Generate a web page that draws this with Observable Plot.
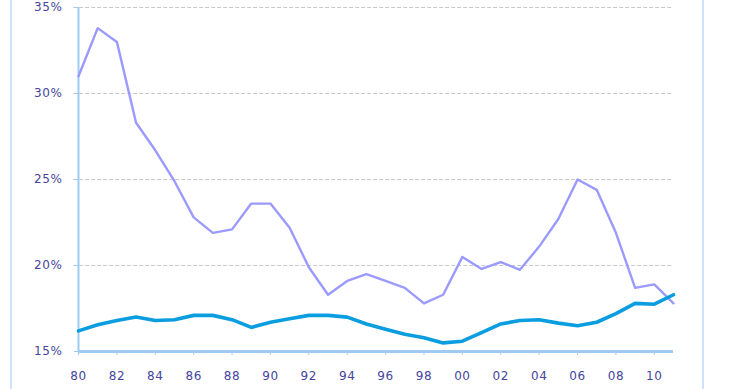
<!DOCTYPE html>
<html>
<head>
<meta charset="utf-8">
<script src="https://cdn.jsdelivr.net/npm/d3@7"></script>
<script src="https://cdn.jsdelivr.net/npm/@observablehq/plot@0.6"></script>
<style>
  html, body { margin: 0; padding: 0; background: #fff; }
  #wrap { position: relative; width: 740px; height: 389px; overflow: hidden; }
  #frame { position: absolute; left: 10px; top: -5px; width: 690px; height: 400px;
           border-left: 2px solid #cfe2fa; border-right: 2px solid #cfe2fa; pointer-events: none; }
  #chart { position: absolute; left: 0; top: 0; }
  #chart text { letter-spacing: 0.6px; }
</style>
</head>
<body>
<div id="wrap"><div id="chart"></div><div id="frame"></div></div>
<script>
const years = d3.range(1980, 2012);
const seriesA = [31.0, 33.8, 33.0, 28.3, 26.7, 24.9, 22.8, 21.9, 22.1, 23.6,
                 23.6, 22.2, 19.9, 18.3, 19.1, 19.5, 19.1, 18.7, 17.8, 18.3,
                 20.5, 19.8, 20.2, 19.75, 21.1, 22.7, 25.0, 24.4, 21.9, 18.7,
                 18.9, 17.8];
const seriesB = [16.2, 16.55, 16.8, 17.0, 16.8, 16.85, 17.1, 17.1, 16.85, 16.4,
                 16.7, 16.9, 17.1, 17.1, 17.0, 16.6, 16.3, 16.0, 15.8, 15.5,
                 15.6, 16.1, 16.6, 16.8, 16.85, 16.65, 16.5, 16.7, 17.2, 17.8,
                 17.75, 18.3];
const xTicks = d3.range(1980, 2011, 2);
const yTicks = [15, 20, 25, 30, 35];

const dataA = years.map((y, i) => ({year: y, value: seriesA[i]}));
const dataB = years.map((y, i) => ({year: y, value: seriesB[i]}));

const labelColor = "#45459a";
const axisColor = "#9fcbf3";

const chart = Plot.plot({
  width: 740,
  height: 389,
  marginLeft: 78,
  marginRight: 67,
  marginTop: 7,
  marginBottom: 38,
  style: {fontFamily: "'DejaVu Sans', Verdana, sans-serif", fontSize: "12px", background: "transparent"},
  x: {domain: [1980, 2011], label: null},
  y: {domain: [15, 35], label: null},
  marks: [
    Plot.gridY(yTicks.slice(1), {stroke: "#c8c8c8", strokeOpacity: 1, strokeDasharray: "4,2", strokeWidth: 1.2, x1: 1979.75}),
    Plot.axisY({ticks: yTicks, tickFormat: d => d + "%", tickSize: 4, tickPadding: 12, stroke: axisColor, fill: labelColor, label: null}),
    Plot.axisX({ticks: xTicks, tickFormat: d => String(d % 100).padStart(2, "0"), tickSize: 4, tickPadding: 16, stroke: axisColor, fill: labelColor, label: null}),
    Plot.ruleX([1980], {stroke: axisColor, strokeWidth: 2}),
    Plot.line(dataA, {x: "year", y: "value", stroke: "#9a9aff", strokeWidth: 2.4}),
    Plot.line(dataB, {x: "year", y: "value", stroke: "#0a9de0", strokeWidth: 3.6}),
    Plot.ruleY([15], {stroke: axisColor, strokeWidth: 3})
  ]
});
document.getElementById("chart").appendChild(chart);
</script>
</body>
</html>
